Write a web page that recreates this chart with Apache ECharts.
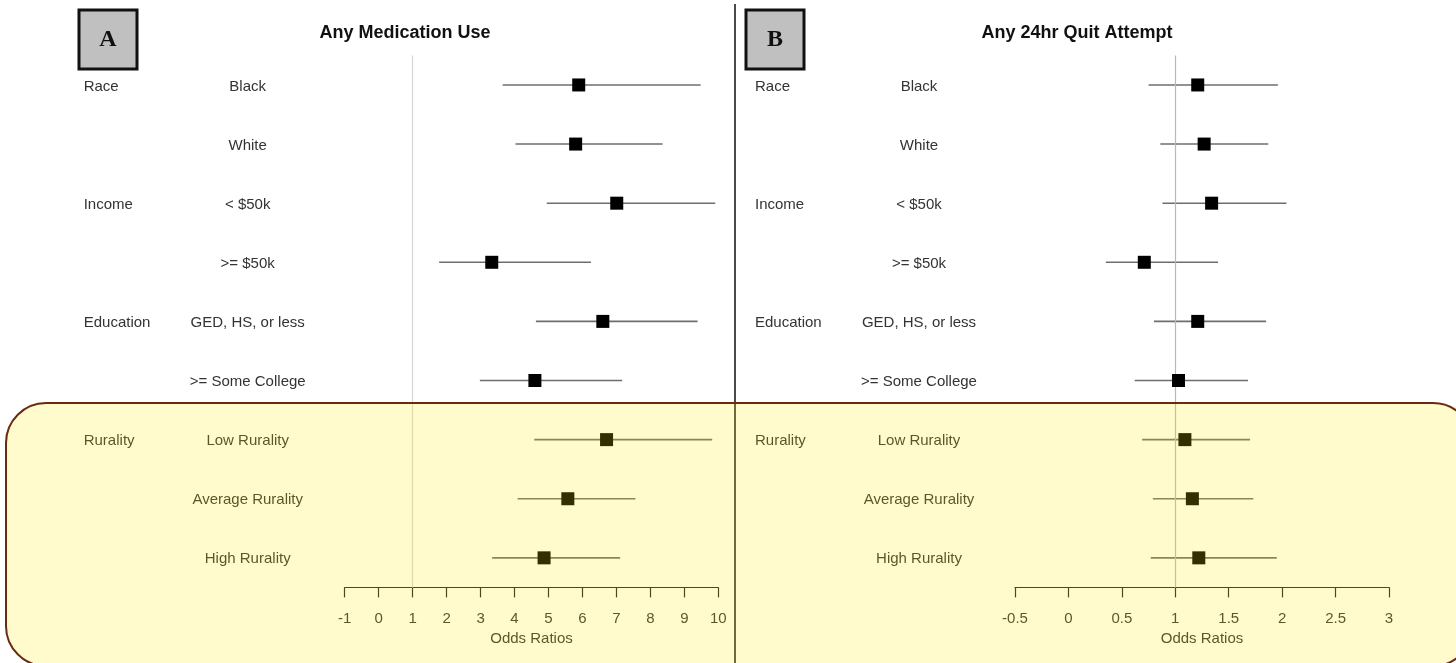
<!DOCTYPE html>
<html>
<head>
<meta charset="utf-8">
<script src="https://cdn.jsdelivr.net/npm/echarts@6/dist/echarts.min.js"></script>
<style>
html,body{margin:0;padding:0;background:#fff;}
#c{width:1456px;height:663px;}
</style>
</head>
<body>
<div id="c"></div>
<script>
var groups = ['Race', '', 'Income', '', 'Education', '', 'Rurality', '', ''];
var subs = ['Black', 'White', '< $50k', '>= $50k', 'GED, HS, or less', '>= Some College', 'Low Rurality', 'Average Rurality', 'High Rurality'];

var medOR = [5.89, 5.80, 7.01, 3.33, 6.60, 4.60, 6.71, 5.57, 4.87];
var medLo = [3.65, 4.03, 4.95, 1.78, 4.63, 2.98, 4.58, 4.09, 3.34];
var medHi = [9.48, 8.36, 9.91, 6.25, 9.39, 7.17, 9.82, 7.56, 7.11];

var quitOR = [1.21, 1.27, 1.34, 0.71, 1.21, 1.03, 1.09, 1.16, 1.22];
var quitLo = [0.75, 0.86, 0.88, 0.35, 0.80, 0.62, 0.69, 0.79, 0.77];
var quitHi = [1.96, 1.87, 2.04, 1.40, 1.85, 1.68, 1.70, 1.73, 1.95];

var titles = ['Any Medication Use', 'Any 24hr Quit Attempt'];
var panelLetters = ['A', 'B'];
var axisName = 'Odds Ratios';

var FONT = '"Liberation Sans", Arial, sans-serif';

function ciData(lo, hi) {
  return lo.map(function (v, i) { return [v, hi[i], i]; });
}
function ptData(or) {
  return or.map(function (v, i) { return [v, i]; });
}
function ciRender(params, api) {
  var a = api.coord([api.value(0), api.value(2)]);
  var b = api.coord([api.value(1), api.value(2)]);
  return {
    type: 'line',
    shape: { x1: a[0], y1: a[1], x2: b[0], y2: b[1] },
    style: { stroke: '#6e6e6e', lineWidth: 1.6 }
  };
}
function yAxisFor(gi) {
  return {
    type: 'category', gridIndex: gi, inverse: true, data: subs,
    axisLine: { show: false }, axisTick: { show: false }, splitLine: { show: false },
    axisLabel: {
      align: 'left', margin: gi === 0 ? 261 : 260,
      formatter: function (v, idx) { return '{g|' + groups[idx] + '}{s|' + v + '}'; },
      rich: {
        g: { width: 100, align: 'left', fontSize: 15, color: '#333', fontFamily: FONT, padding: [3, 0, 0, 0] },
        s: { width: 128, align: 'center', fontSize: 15, color: '#333', fontFamily: FONT, padding: [3, 0, 0, 0] }
      }
    }
  };
}
function xAxisFor(gi, min, max, interval) {
  return {
    type: 'value', gridIndex: gi, min: min, max: max, interval: interval,
    position: 'bottom',
    name: axisName, nameLocation: 'middle', nameGap: 43,
    nameTextStyle: { fontSize: 15, color: '#333', fontFamily: FONT },
    axisLine: { show: true, lineStyle: { color: '#222', width: 1.2 } },
    axisTick: { show: true, inside: false, length: 10, lineStyle: { color: '#222', width: 1.2 } },
    axisLabel: { margin: 24, fontSize: 15, color: '#333', fontFamily: FONT },
    splitLine: { show: false }
  };
}

var chart = echarts.init(document.getElementById('c'), null, { renderer: 'canvas' });
chart.setOption({
  backgroundColor: '#ffffff',
  animation: false,
  title: [
    { text: titles[0], left: 400, top: 19, textAlign: 'center',
      textStyle: { fontSize: 18, fontWeight: 'bold', color: '#111', fontFamily: FONT } },
    { text: titles[1], left: 1072, top: 19, textAlign: 'center',
      textStyle: { fontSize: 18, fontWeight: 'bold', color: '#111', fontFamily: FONT } }
  ],
  grid: [
    { left: 344.7, width: 373.6, top: 55.4, height: 532, containLabel: false },
    { left: 1015, width: 374, top: 55.4, height: 532, containLabel: false }
  ],
  xAxis: [xAxisFor(0, -1, 10, 1), xAxisFor(1, -0.5, 3, 0.5)],
  yAxis: [yAxisFor(0), yAxisFor(1)],
  series: [
    { type: 'custom', xAxisIndex: 0, yAxisIndex: 0, renderItem: ciRender, data: ciData(medLo, medHi), z: 2,
      markLine: { silent: true, symbol: 'none', label: { show: false },
        lineStyle: { color: '#d6d6d6', width: 1.2, type: 'solid' }, data: [{ xAxis: 1 }] } },
    { type: 'scatter', xAxisIndex: 0, yAxisIndex: 0, symbol: 'rect', symbolSize: 13,
      itemStyle: { color: '#000', opacity: 1 }, data: ptData(medOR), z: 10 },
    { type: 'custom', xAxisIndex: 1, yAxisIndex: 1, renderItem: ciRender, data: ciData(quitLo, quitHi), z: 2,
      markLine: { silent: true, symbol: 'none', label: { show: false },
        lineStyle: { color: '#b8b8b8', width: 1.2, type: 'solid' }, data: [{ xAxis: 1 }] } },
    { type: 'scatter', xAxisIndex: 1, yAxisIndex: 1, symbol: 'rect', symbolSize: 13,
      itemStyle: { color: '#000', opacity: 1 }, data: ptData(quitOR), z: 10 }
  ],
  graphic: [
    { type: 'line', z: 50, shape: { x1: 735, y1: 4, x2: 735, y2: 663 },
      style: { stroke: '#4a4a4a', lineWidth: 2 } },
    { type: 'rect', z: 50, shape: { x: 79, y: 10, width: 58, height: 59 },
      style: { fill: '#c0c0c0', stroke: '#111', lineWidth: 3 } },
    { type: 'text', z: 51, x: 108, y: 40,
      style: { text: panelLetters[0], font: 'bold 24px "Liberation Serif", "Times New Roman", serif',
        fill: '#111', align: 'center', verticalAlign: 'middle' } },
    { type: 'rect', z: 50, shape: { x: 746, y: 10, width: 58, height: 59 },
      style: { fill: '#c0c0c0', stroke: '#111', lineWidth: 3 } },
    { type: 'text', z: 51, x: 775, y: 40,
      style: { text: panelLetters[1], font: 'bold 24px "Liberation Serif", "Times New Roman", serif',
        fill: '#111', align: 'center', verticalAlign: 'middle' } },
    { type: 'rect', z: 100, shape: { x: 6, y: 403, width: 1467, height: 263, r: 40 },
      style: { fill: 'rgba(255,236,0,0.2)', stroke: '#6a2a12', lineWidth: 2 } }
  ]
});
</script>
</body>
</html>
